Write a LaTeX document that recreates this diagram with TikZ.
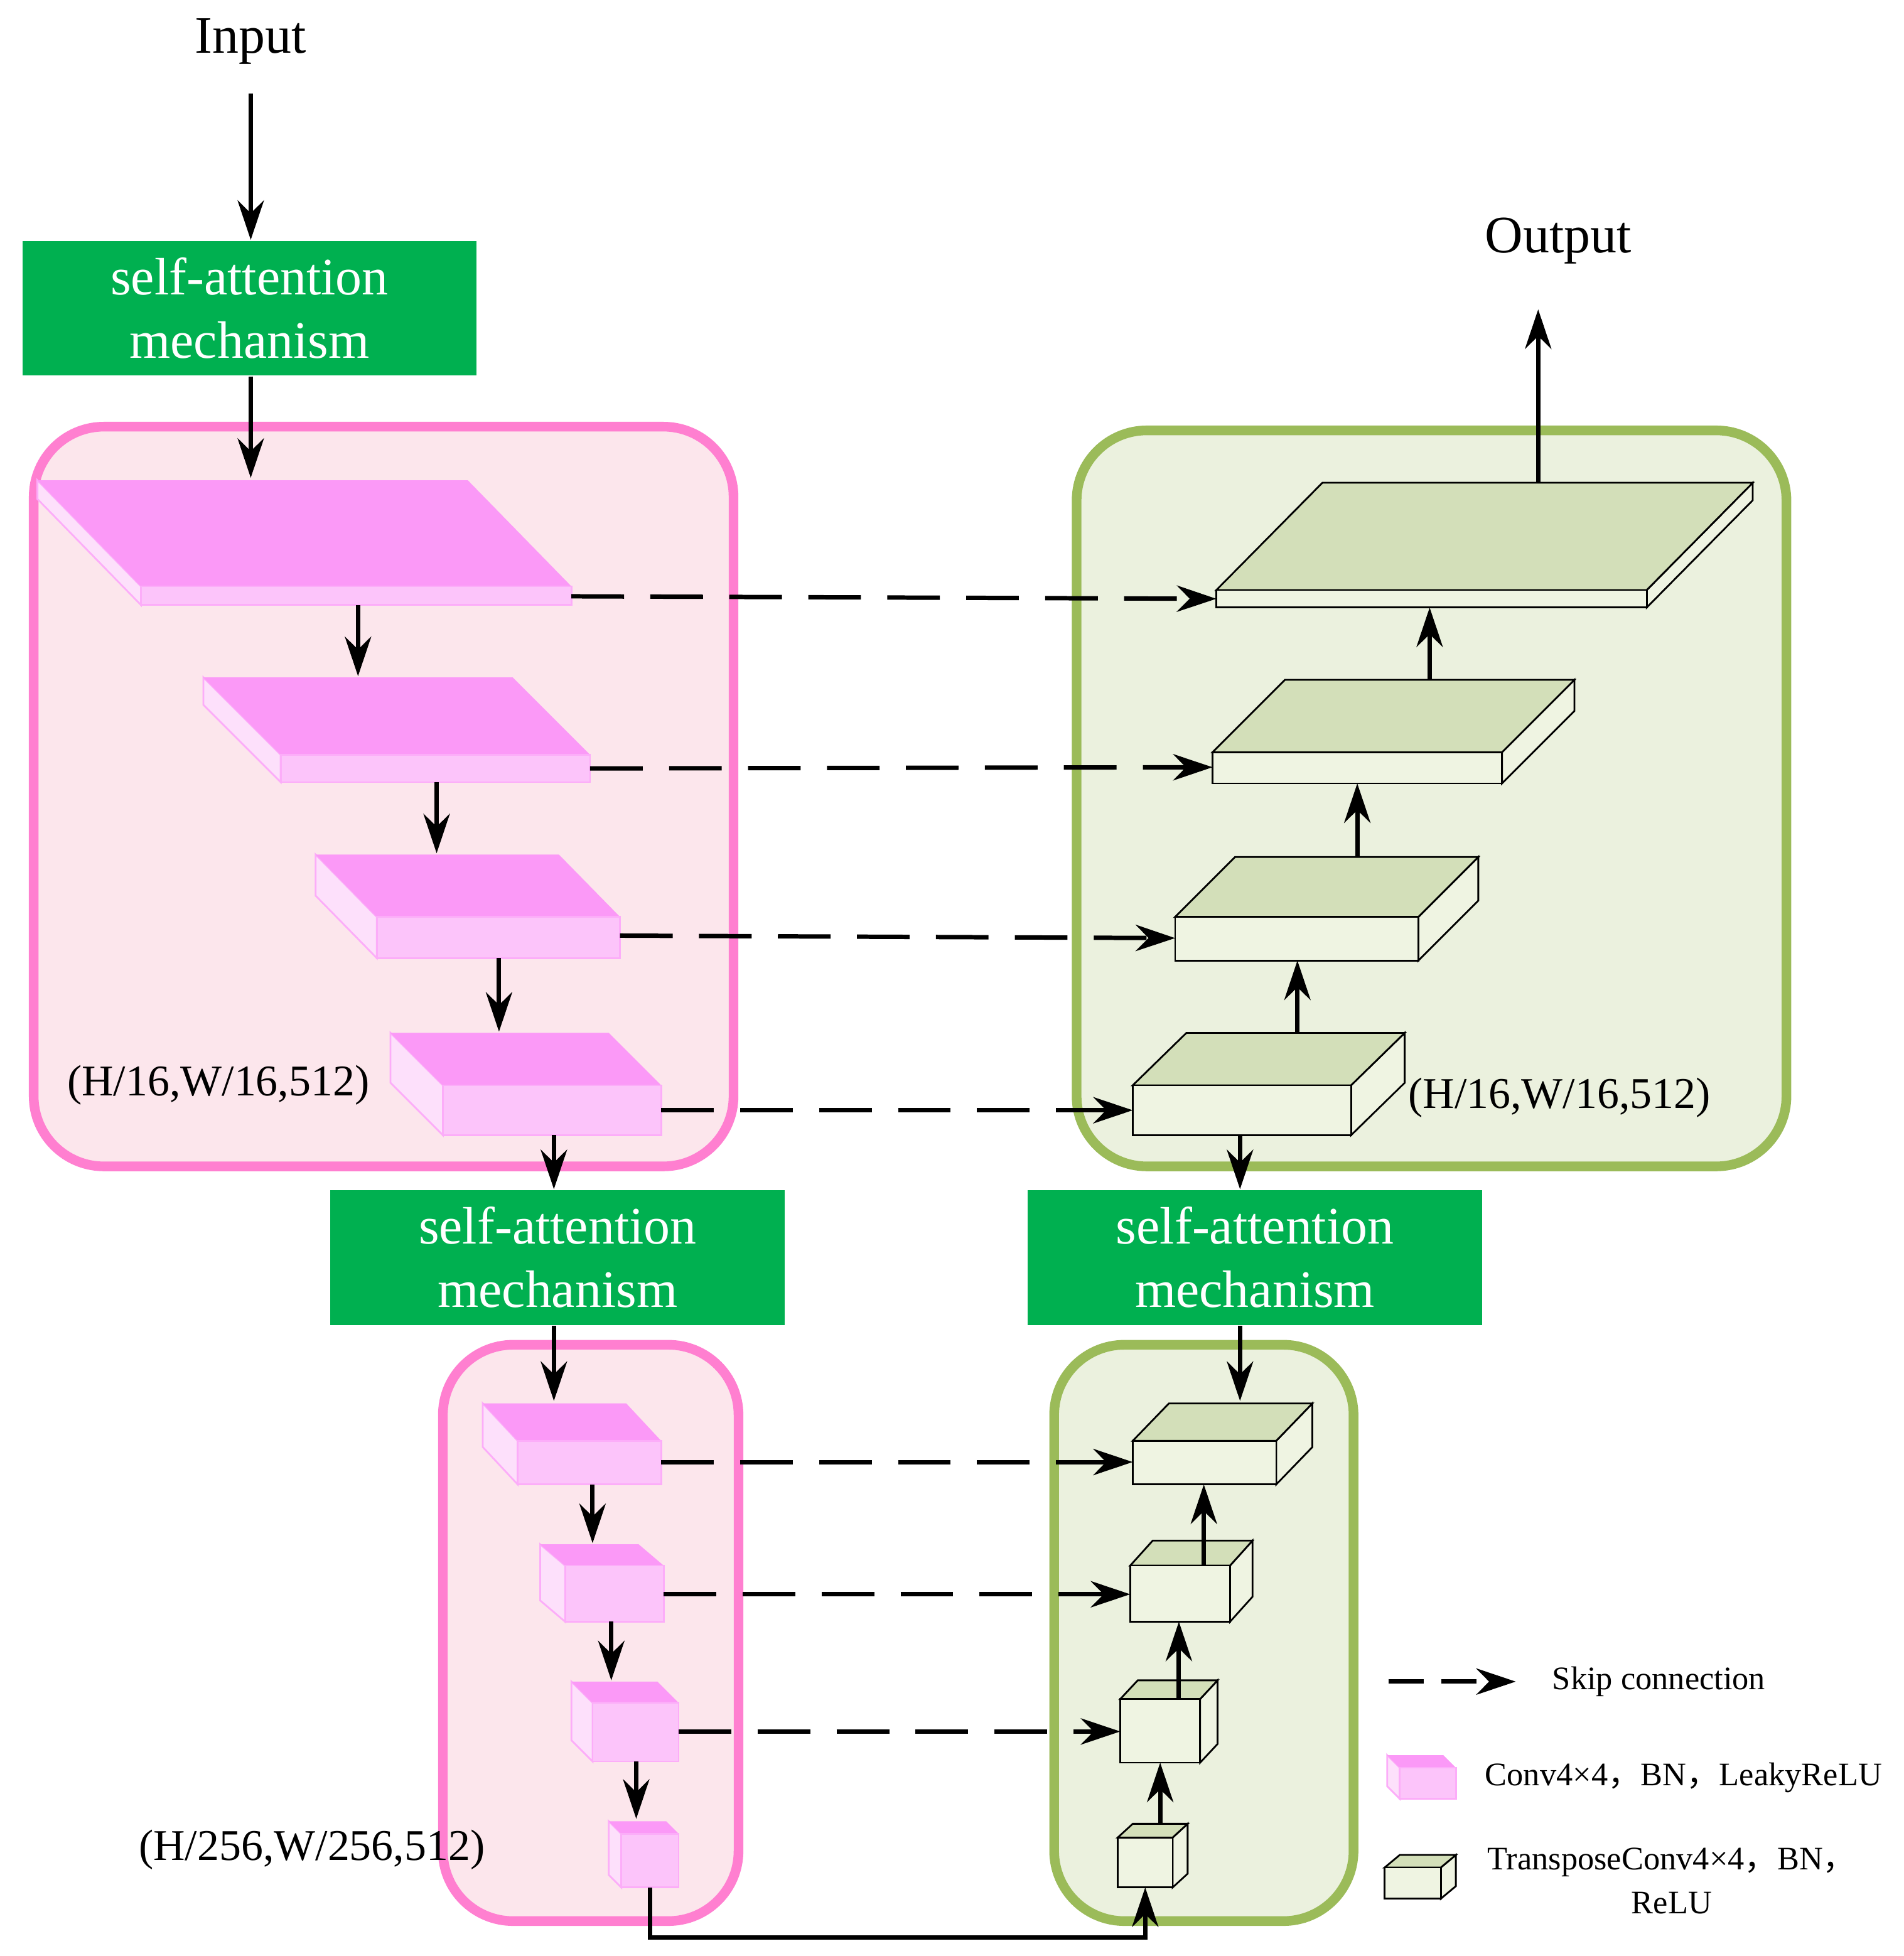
\documentclass[tikz,border=0pt]{standalone}
\usepackage{fontspec}
\setmainfont{Liberation Serif}
\newfontfamily\cjk{Noto Sans CJK SC}
\usetikzlibrary{arrows.meta,positioning,calc}
\definecolor{saGreen}{HTML}{00B050}
\definecolor{pinkLine}{HTML}{FF7FD0}
\definecolor{pinkFill}{HTML}{FCE6EC}
\definecolor{pinkTop}{HTML}{FB99F7}
\definecolor{pinkFront}{HTML}{FCC4FA}
\definecolor{pinkSide}{HTML}{FDE0FB}
\definecolor{greenLine}{HTML}{9BBB59}
\definecolor{greenFill}{HTML}{EBF1DE}
\definecolor{greenTop}{HTML}{D3DFB9}
\definecolor{greenFront}{HTML}{EFF4E2}
\tikzset{
arr/.style={-{Stealth[length=9pt,width=6pt]},line width=1pt},
skip/.style={arr,dash pattern=on 12pt off 6pt},
attn/.style={fill=saGreen,text=white,minimum width=3.64cm,minimum height=1.08cm,align=center,font=\fontsize{12}{14.5}\selectfont,inner sep=0pt},
pinkframe/.style={draw=pinkLine,fill=pinkFill,line width=2.2pt,rounded corners=16pt},
greenframe/.style={draw=greenLine,fill=greenFill,line width=2.2pt,rounded corners=16pt},
dimlabel/.style={font=\fontsize{10}{12}\selectfont},
legendtext/.style={font=\fontsize{7.5}{10}\selectfont,anchor=west},
}
% front face (x1,y1)-(x2,y2), depth offset (dx,dy)
\newcommand\pinkcube[6]{%
  \fill[pinkSide,draw=pinkTop!80,thin] (#1,#2) -- (#1,#4) -- ({#1-#5},{#4-#6}) -- ({#1-#5},{#2-#6}) -- cycle;
  \fill[pinkTop] (#1,#2) -- (#3,#2) -- ({#3-#5},{#2-#6}) -- ({#1-#5},{#2-#6}) -- cycle;
  \fill[pinkFront,draw=pinkTop!80,thin] (#1,#2) rectangle (#3,#4);
}
\newcommand\greencube[6]{%
  \filldraw[greenFront,draw=black,thin] (#3,#2) -- (#3,#4) -- ({#3+#5},{#4-#6}) -- ({#3+#5},{#2-#6}) -- cycle;
  \filldraw[greenTop,draw=black,thin] (#1,#2) -- (#3,#2) -- ({#3+#5},{#2-#6}) -- ({#1+#5},{#2-#6}) -- cycle;
  \filldraw[greenFront,draw=black,thin] (#1,#2) rectangle (#3,#4);
}
\begin{document}
\begin{tikzpicture}[x=0.01cm,y=-0.01cm]
\useasboundingbox (0,0) rectangle (1526,1568);
% frames
\draw[pinkframe] (27,342) rectangle (588,935);
\draw[pinkframe] (355,1078) rectangle (592,1540);
\draw[greenframe] (863,345) rectangle (1432,935);
\draw[greenframe] (845,1078) rectangle (1085,1540);
% attention blocks
\node[attn] (sa1) at (200,247) {self-attention\\mechanism};
\node[attn] (sa2) at (447,1008) {self-attention\\mechanism};
\node[attn] (sa3) at (1006,1008) {self-attention\\mechanism};
\node[font=\fontsize{12}{14}\selectfont] (in) at (201,33) {Input};
\node[font=\fontsize{12}{14}\selectfont] (out) at (1249,193) {Output};
% encoder
\pinkcube{113}{470}{458}{485}{83}{85}
\pinkcube{225}{605}{473}{627}{62}{62}
\pinkcube{302}{735}{497}{768}{49}{50}
\pinkcube{355}{870}{530}{910}{42}{42}
\pinkcube{415}{1155}{530}{1190}{28}{30}
\pinkcube{453}{1255}{532}{1300}{20}{17}
\pinkcube{475}{1365}{544}{1412}{17}{17}
\pinkcube{498}{1470}{544}{1513}{10}{10}
% decoder
\greencube{975}{473}{1320}{487}{85}{86}
\greencube{972}{603}{1204}{628}{58}{58}
\greencube{942}{735}{1137}{770}{48}{48}
\greencube{908}{870}{1083}{910}{43}{42}
\greencube{908}{1155}{1023}{1190}{29}{30}
\greencube{906}{1255}{986}{1300}{18}{20}
\greencube{898}{1362}{962}{1413}{14}{15}
\greencube{896}{1473}{940}{1513}{12}{11}
% labels
\node[dimlabel] (d1) at (175,870) {(H/16,W/16,512)};
\node[dimlabel] (d2) at (1250,880) {(H/16,W/16,512)};
\node[dimlabel] (d3) at (250,1483) {(H/256,W/256,512)};
% flow
\draw[arr] (201,75) -- (sa1.north -| 201,0);
\draw[arr] (sa1.south -| 201,0) -- (201,383);
\draw[arr] (287,485) -- (287,542);
\draw[arr] (350,627) -- (350,684);
\draw[arr] (400,768) -- (400,827);
\draw[arr] (444,910) -- (sa2.north -| 444,0);
\draw[arr] (sa2.south -| 444,0) -- (444,1123);
\draw[arr] (475,1190) -- (475,1237);
\draw[arr] (490,1300) -- (490,1347);
\draw[arr] (510,1412) -- (510,1458);
\draw[arr] (521,1513) -- (521,1553) -- (918,1553) -- (918,1513);
\draw[arr] (930,1462) -- (930,1413);
\draw[arr] (945,1362) -- (945,1300);
\draw[arr] (965,1255) -- (965,1190);
\draw[arr] (sa3.south -| 994,0) -- (994,1123);
\draw[arr] (994,910) -- (sa3.north -| 994,0);
\draw[arr] (1040,828) -- (1040,770);
\draw[arr] (1088,687) -- (1088,628);
\draw[arr] (1146,545) -- (1146,487);
\draw[arr] (1233,387) -- (1233,248);
% skip connections
\draw[skip] (458,478) -- (975,480);
\draw[skip] (473,616) -- (972,615);
\draw[skip] (497,750) -- (942,752);
\draw[skip] (530,890) -- (908,890);
\draw[skip] (530,1172) -- (908,1172);
\draw[skip] (532,1278) -- (906,1278);
\draw[skip] (544,1388) -- (898,1388);
% legend
\draw[skip,dash pattern=on 8pt off 4pt] (1113,1348) -- (1215,1348);
\node[legendtext] (l1) at (1232,1348) {Skip connection};
\pinkcube{1122}{1417}{1167}{1442}{10}{10}
\node[legendtext] (l2) at (1178,1425) {Conv4×4{\cjk ，}BN{\cjk ，}LeakyReLU};
\greencube{1110}{1497}{1155}{1522}{12}{10}
\node[legendtext,align=center] (l3) at (1180,1508) {TransposeConv4×4{\cjk ，}BN{\cjk ，}\\ReLU};
\end{tikzpicture}
\end{document}
